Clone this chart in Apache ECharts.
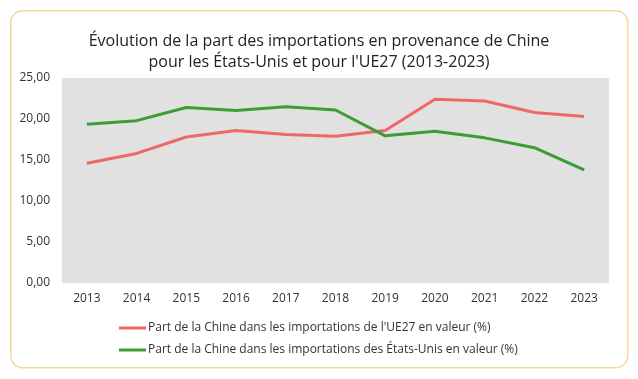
<!DOCTYPE html>
<html><head><meta charset="utf-8">
<script src="https://cdn.jsdelivr.net/npm/echarts@6/dist/echarts.min.js"></script>
<style>html,body{margin:0;padding:0;background:#fff}#c{width:638px;height:379px}</style>
</head><body><div id="c"></div>
<script>
const years = ['2013','2014','2015','2016','2017','2018','2019','2020','2021','2022','2023'];
const ue27 = [14.6, 15.8, 17.8, 18.6, 18.1, 17.9, 18.6, 22.4, 22.2, 20.8, 20.3];
const usa = [19.35, 19.8, 21.4, 21.05, 21.5, 21.1, 17.95, 18.5, 17.7, 16.5, 13.8];
const nameUE = "Part de la Chine dans les importations de l'UE27 en valeur (%)";
const nameUS = "Part de la Chine dans les importations des États-Unis en valeur (%)";
const font = '"Open Sans", sans-serif';
const chart = echarts.init(document.getElementById('c'), null, {renderer:'canvas'});
chart.setOption({
  animation:false,
  textStyle:{fontFamily:font},
  graphic:[{type:'rect', left:10, top:10, shape:{width:617, height:357, r:12}, style:{fill:'#fff', stroke:'#eedc96', lineWidth:1.5}, z:-10}],
  title:{text:"Évolution de la part des importations en provenance de Chine\npour les États-Unis et pour l'UE27 (2013-2023)", left:'center', top:26, textStyle:{fontFamily:font, fontSize:16, fontWeight:'normal', color:'#222', lineHeight:21}},
  grid:{left:62, right:29, top:78, bottom:96, show:true, backgroundColor:'#e1e1e1', borderWidth:0},
  xAxis:{type:'category', data:years, boundaryGap:true, axisLine:{show:false}, axisTick:{show:false}, axisLabel:{fontSize:12, color:'#333', margin:10, fontFamily:font}},
  yAxis:{type:'value', min:0, max:25, interval:5, splitLine:{show:false}, axisLabel:{fontSize:12, color:'#333', margin:12, fontFamily:font, formatter:v=>v.toFixed(2).replace('.',',')}},
  legend:{orient:'vertical', left:114, top:317, itemGap:10, itemWidth:27, itemHeight:3, icon:'rect', textStyle:{fontSize:12, color:'#333', fontFamily:font, padding:[0,0,0,-3]}, data:[nameUE, nameUS]},
  series:[
    {name:nameUE, type:'line', data:ue27, symbol:'none', lineStyle:{width:3, color:'#ef6868'}, itemStyle:{color:'#ef6868'}},
    {name:nameUS, type:'line', data:usa, symbol:'none', lineStyle:{width:3, color:'#3c9d35'}, itemStyle:{color:'#3c9d35'}}
  ]
});
</script></body></html>
